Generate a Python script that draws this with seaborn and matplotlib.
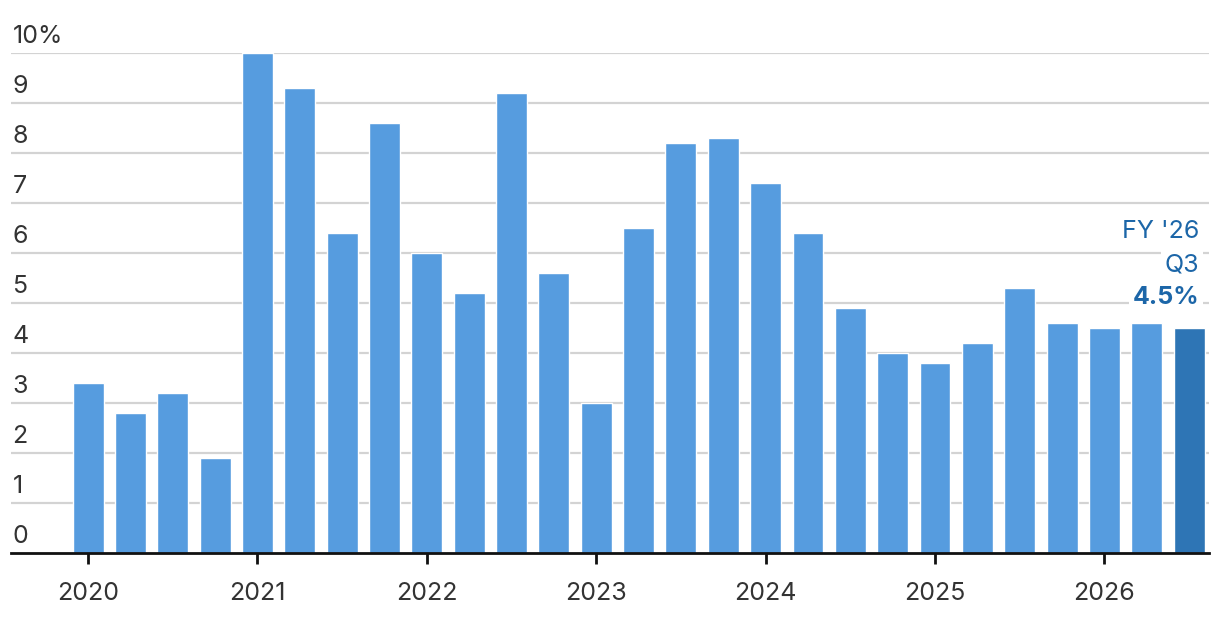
import matplotlib
matplotlib.use("Agg")
import matplotlib.pyplot as plt
import matplotlib.transforms as mtransforms
import numpy as np
import pandas as pd
import seaborn as sns

# fiscal quarters, FY2020 Q1 .. FY2026 Q3
FISCAL_YEARS = [2020] * 4 + [2021] * 4 + [2022] * 4 + [2023] * 4 + [2024] * 4 + [2025] * 4 + [2026] * 3
QUARTERS = ["Q1", "Q2", "Q3", "Q4"] * 6 + ["Q1", "Q2", "Q3"]
GROWTH_PCT = [
    3.4, 2.8, 3.2, 1.9,
    10.0, 9.3, 6.4, 8.6,
    6.0, 5.2, 9.2, 5.6,
    3.0, 6.5, 8.2, 8.3,
    7.4, 6.4, 4.9, 4.0,
    3.8, 4.2, 5.3, 4.6,
    4.5, 4.6, 4.5,
]
Y_TICKS = [0, 1, 2, 3, 4, 5, 6, 7, 8, 9, 10]
YEAR_TICKS = [2020, 2021, 2022, 2023, 2024, 2025, 2026]

BAR_COLOR = "#569cdf"
LAST_COLOR = "#2e75b5"
NOTE_COLOR = "#1c66a8"
TEXT_COLOR = "#333333"
GRID_COLOR = "#d3d3d3"
FONT_SIZE = 18


def main() -> None:
    sns.set_theme(style="white")
    plt.rcParams["font.family"] = ["Inter", "DejaVu Sans"]

    df = pd.DataFrame({"year": FISCAL_YEARS, "quarter": QUARTERS, "growth": GROWTH_PCT})
    df["period"] = df["year"].astype(str) + " " + df["quarter"]
    palette = [BAR_COLOR] * (len(df) - 1) + [LAST_COLOR]

    fig = plt.figure(figsize=(12.2, 6.28), dpi=100)
    ax = fig.add_axes([11 / 1220, 75 / 628, 1198 / 1220, 500 / 628])

    sns.barplot(
        data=df, x="period", y="growth", hue="period", palette=palette,
        width=0.73, legend=False, saturation=1, ax=ax,
    )

    ax.set_xlim(-1.82, len(df) - 0.53)
    ax.set_ylim(0, 10)

    # gridlines and left-aligned labels sitting above them
    label_off = mtransforms.offset_copy(ax.get_yaxis_transform(), fig=fig, x=1, y=7, units="points")
    for t in Y_TICKS:
        if t > 0:
            ax.axhline(t, color=GRID_COLOR, lw=1.6, zorder=0)
        ax.text(0, t, f"{t}%" if t == 10 else str(t), transform=label_off,
                ha="left", va="baseline", fontsize=FONT_SIZE, color=TEXT_COLOR)
    ax.set_yticks([])
    ax.set_ylabel("")

    first_idx = [df.index[df["year"] == y][0] for y in YEAR_TICKS]
    ax.set_xticks(first_idx, labels=[str(y) for y in YEAR_TICKS])
    ax.tick_params(axis="x", length=8, width=2, color="#111111", pad=13,
                   labelsize=FONT_SIZE, labelcolor=TEXT_COLOR, bottom=True)
    ax.set_xlabel("")

    for side in ["top", "right", "left"]:
        ax.spines[side].set_visible(False)
    ax.spines["bottom"].set_color("#111111")
    ax.spines["bottom"].set_linewidth(2)
    ax.spines["bottom"].set_zorder(5)

    last = df.iloc[-1]
    last_i = len(df) - 1
    note_lines = [
        (f"FY '{str(last['year'])[2:]}", "normal", 65),
        (last["quarter"], "normal", 41),
        (f"{last['growth']:.1f}%", "bold", 17),
    ]
    for txt, weight, dy in note_lines:
        ax.annotate(
            txt, xy=(last_i, last["growth"]), xytext=(7.5, dy), textcoords="offset points",
            ha="right", va="baseline", fontsize=FONT_SIZE, fontweight=weight, color=NOTE_COLOR,
            bbox=dict(boxstyle="square,pad=0.15", fc="white", ec="none"),
        )

    fig.savefig("out.png", dpi=100)
    plt.close(fig)


if __name__ == "__main__":
    main()
